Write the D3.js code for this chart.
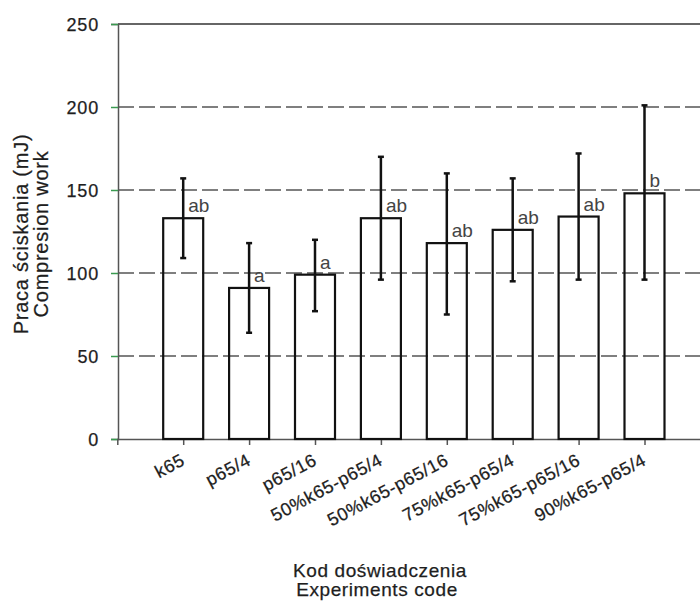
<!DOCTYPE html>
<html>
<head>
<meta charset="utf-8">
<script src="https://cdn.jsdelivr.net/npm/d3@7"></script>
<style>
  body { margin: 0; background: #fff; }
  svg { display: block; font-family: "Liberation Sans", Arial, sans-serif; }
  .txt { fill: #1e1e1e; stroke: #1e1e1e; stroke-width: 0.25px; }
</style>
</head>
<body>
<script>
// Data
const codes = ['k65', 'p65/4', 'p65/16', '50%k65-p65/4', '50%k65-p65/16', '75%k65-p65/4', '75%k65-p65/16', '90%k65-p65/4']
const means = [133, 91, 99, 133, 118, 126, 134, 148]
const errLow = [109, 64, 77, 96, 75, 95, 96, 96]
const errHigh = [157, 118, 120, 170, 160, 157, 172, 201]
const letters = ['ab', 'a', 'a', 'ab', 'ab', 'ab', 'ab', 'b']
const yTicks = [0, 50, 100, 150, 200, 250]
const gridValues = [50, 100, 150, 200]

// Constants
const W = 700, H = 602
const plotLeft = 118, plotTop = 24, plotBottom = 439

const svg = d3.select('body').append('svg')
  .attr('width', W)
  .attr('height', H)

// Scales
const x = d3.scaleLinear().domain([0, codes.length + 1]).range([117.3, 117.3 + 9 * 65.9])
const y = d3.scaleLinear().domain([0, 250]).range([plotBottom, plotTop])
const barW = 40

// Grid lines
svg.selectAll('.grid')
  .data(gridValues)
  .enter()
  .append('line')
  .attr('class', 'grid')
  .attr('x1', plotLeft).attr('x2', W)
  .attr('y1', d => y(d)).attr('y2', d => y(d))
  .attr('stroke', '#555')
  .attr('stroke-width', 1.5)
  .attr('stroke-dasharray', '16,5')

// Top frame line
svg.append('line')
  .attr('x1', plotLeft).attr('x2', W)
  .attr('y1', y(250)).attr('y2', y(250))
  .attr('stroke', '#333')
  .attr('stroke-width', 1.6)

// Y axis
const yAxis = d3.axisLeft(y).tickValues(yTicks).tickSize(7).tickPadding(12)
const gy = svg.append('g')
  .attr('transform', `translate(${plotLeft},0)`)
  .call(yAxis)
gy.select('.domain').attr('stroke', '#555').attr('stroke-width', 1.5)
gy.selectAll('.tick line').attr('stroke', '#3a9a50').attr('stroke-width', 1.5)
gy.selectAll('.tick text')
  .attr('class', 'txt')
  .attr('dy', '0.36em')
  .style('font-size', '18px')
  .style('letter-spacing', '0.8px')
  .style('font-family', '"Liberation Sans", Arial, sans-serif')

// X axis
const xAxis = d3.axisBottom(x).tickValues(codes.map((_, i) => i + 1)).tickSize(6).tickFormat('')
const gx = svg.append('g')
  .attr('transform', `translate(0,${plotBottom})`)
  .call(xAxis)
gx.select('.domain').attr('stroke', '#555').attr('stroke-width', 1.5)
gx.selectAll('.tick line').attr('stroke', '#555').attr('stroke-width', 1.5)

// X tick labels (rotated)
svg.selectAll('.xlab')
  .data(codes)
  .enter()
  .append('text')
  .attr('class', 'xlab txt')
  .attr('transform', (d, i) => `translate(${x(i + 1) + 3},${plotBottom + 25}) rotate(-28)`)
  .attr('text-anchor', 'end')
  .style('font-size', '18px')
  .style('letter-spacing', '0.6px')
  .text(d => d)

// Bars
svg.selectAll('.bar')
  .data(means)
  .enter()
  .append('rect')
  .attr('class', 'bar')
  .attr('x', (d, i) => x(i + 1) - barW / 2)
  .attr('y', d => y(d))
  .attr('width', barW)
  .attr('height', d => plotBottom - y(d))
  .attr('fill', 'none')
  .attr('stroke', '#111')
  .attr('stroke-width', 2.2)

// Error bars
const err = svg.append('g').attr('stroke', '#111').attr('stroke-width', 2.5)
codes.forEach((c, i) => {
  const cx = x(i + 1)
  err.append('line').attr('x1', cx).attr('x2', cx).attr('y1', y(errLow[i])).attr('y2', y(errHigh[i]))
  err.append('line').attr('x1', cx - 3).attr('x2', cx + 3).attr('y1', y(errLow[i])).attr('y2', y(errLow[i]))
  err.append('line').attr('x1', cx - 3).attr('x2', cx + 3).attr('y1', y(errHigh[i])).attr('y2', y(errHigh[i]))
})

// Significance letters
svg.selectAll('.letter')
  .data(letters)
  .enter()
  .append('text')
  .attr('class', 'letter')
  .attr('x', (d, i) => x(i + 1) + 5)
  .attr('y', (d, i) => y(means[i]) - 6)
  .attr('fill', '#444')
  .style('font-size', '19px')
  .text(d => d)

// Y title
const yTitle = svg.append('text')
  .attr('class', 'txt')
  .attr('transform', 'translate(0,234) rotate(-90)')
  .attr('text-anchor', 'middle')
  .style('font-size', '20px')
  .style('letter-spacing', '0.75px')
yTitle.append('tspan').attr('x', 0).attr('y', 28).text('Praca ściskania (mJ)')
yTitle.append('tspan').attr('x', 0).attr('y', 48).text('Compresion work')

// X title
const xTitle = svg.append('text')
  .attr('class', 'txt')
  .attr('text-anchor', 'middle')
  .style('font-size', '19px')
  .style('letter-spacing', '0.6px')
xTitle.append('tspan').attr('x', 380).attr('y', 577).text('Kod doświadczenia')
xTitle.append('tspan').attr('x', 377).attr('y', 596).text('Experiments code')
</script>
</body>
</html>
